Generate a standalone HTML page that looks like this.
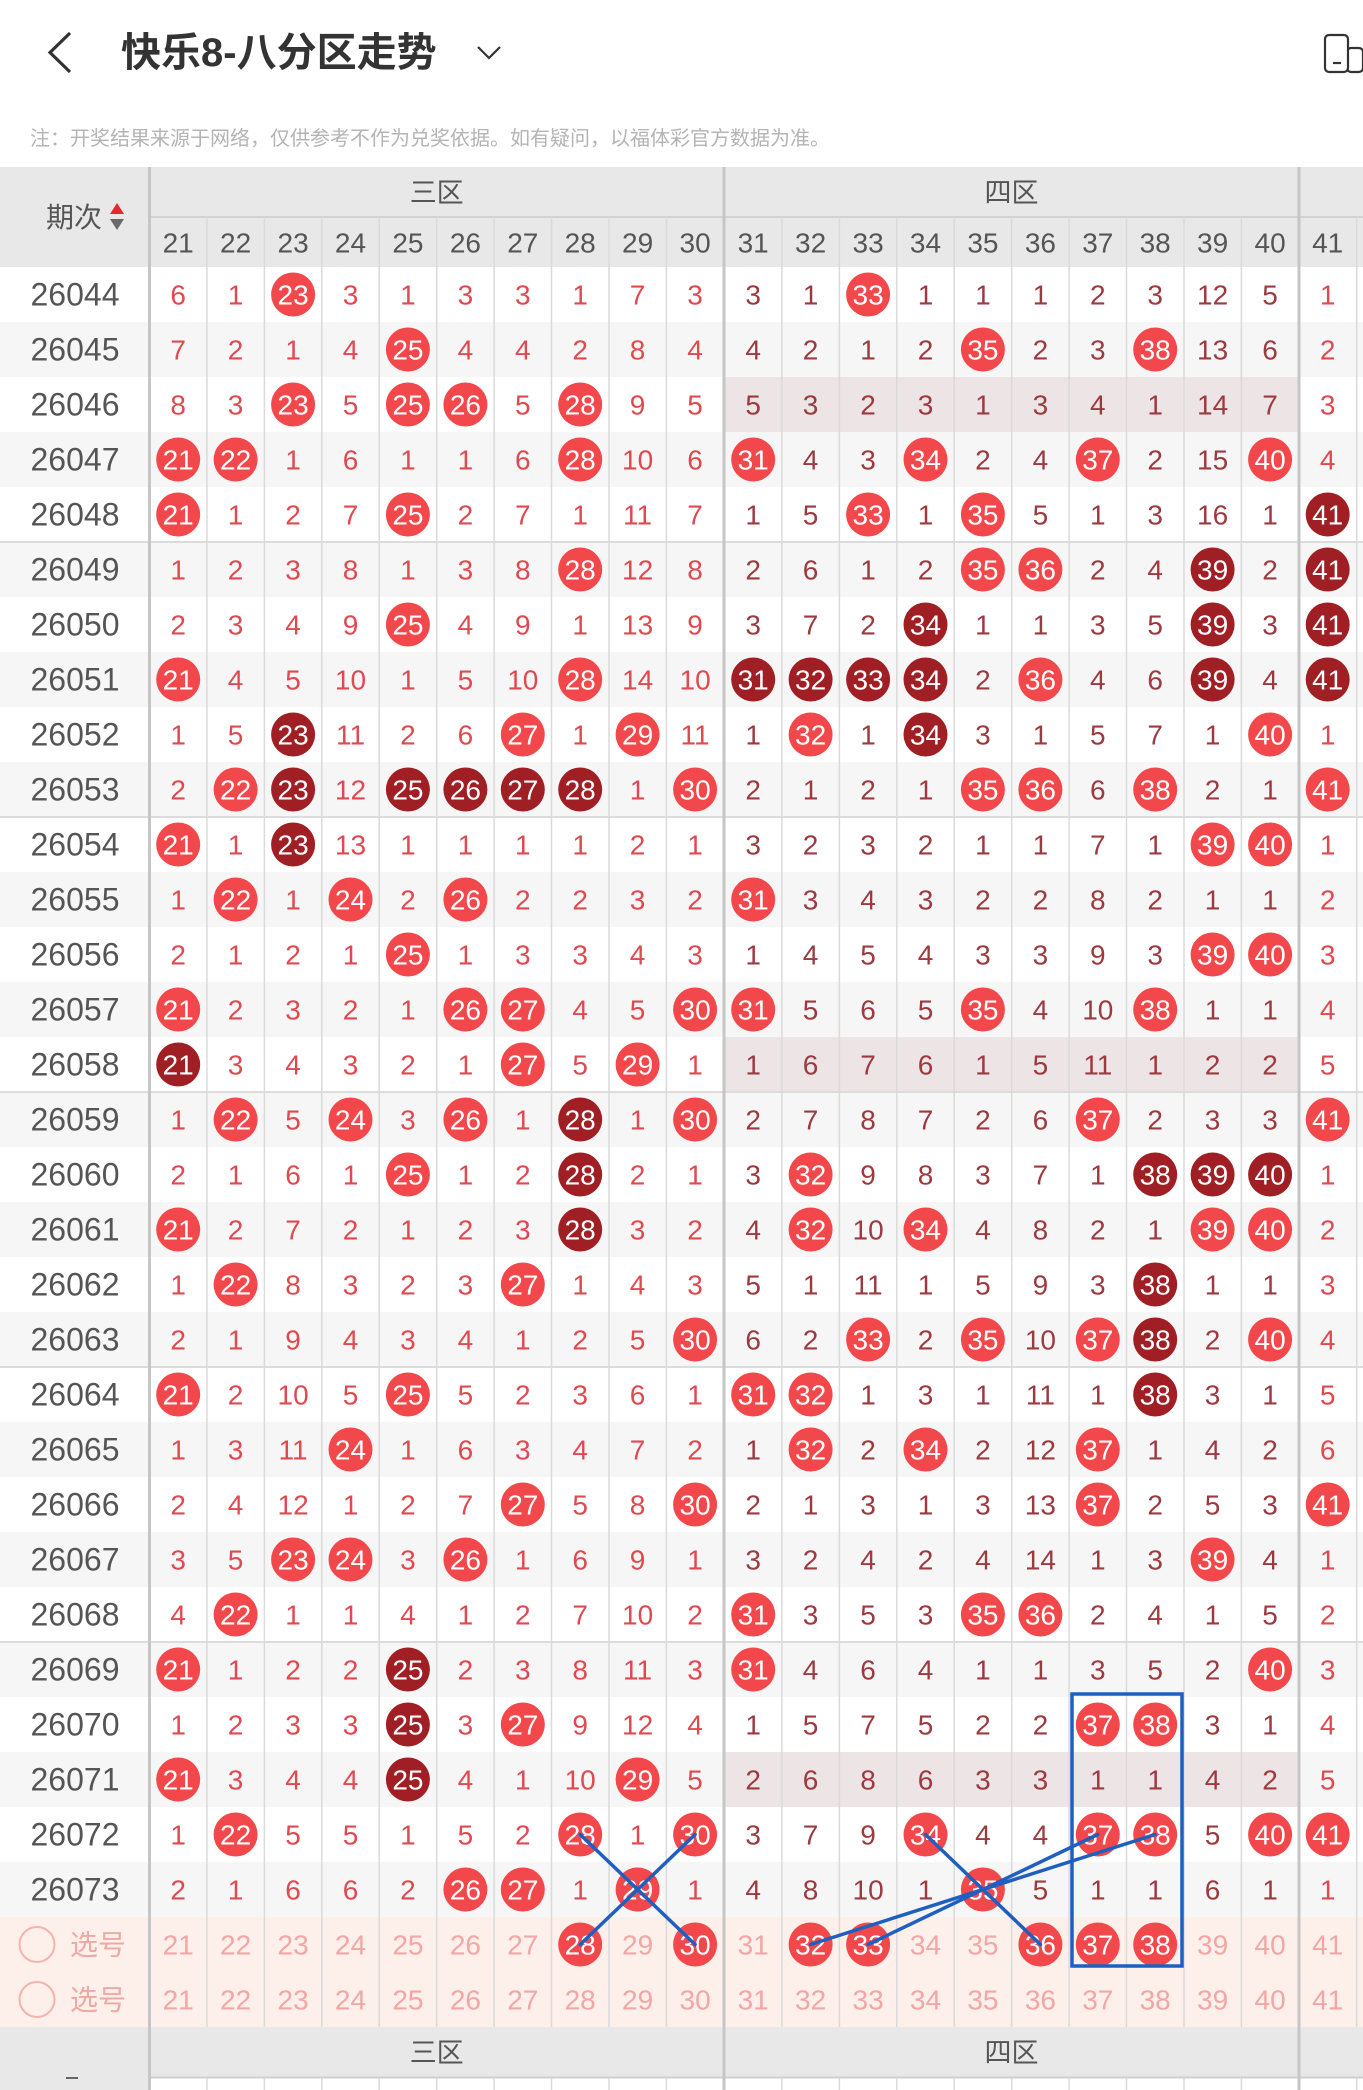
<!DOCTYPE html>
<html><head><meta charset="utf-8">
<style>
html,body{margin:0;padding:0;background:#fff;}
svg{display:block;}
text{font-family:"Liberation Sans","Noto Sans CJK SC",sans-serif;}
.t text{font-size:28px;text-anchor:middle;}
.t text.q{font-size:32px;fill:#555;}
.a{fill:#df4a50;} .b{fill:#9c3a40;} .w{fill:#fff;} .p{fill:#f3a6a6;} .h{fill:#555;}
.r{fill:#f2484b;} .d{fill:#a01f25;}
</style></head>
<body>
<svg xmlns="http://www.w3.org/2000/svg" width="1363" height="2090" viewBox="0 0 1363 2090">
<rect x="0" y="0" width="1363" height="2090" fill="#fff"/>
<polyline points="70,33 50,52.5 70,72" fill="none" stroke="#333" stroke-width="3.2" stroke-linejoin="miter"/>
<text x="121" y="66" style="font-size:40px;font-weight:bold;fill:#333;">快乐8-八分区走势</text>
<polyline points="478,47 489,58 500,47" fill="none" stroke="#333" stroke-width="2.2"/>
<rect x="1347" y="48" width="16" height="24" rx="4" fill="#fff" stroke="#333" stroke-width="2.2"/>
<rect x="1325" y="35" width="23" height="37" rx="4" fill="#fff" stroke="#333" stroke-width="2.2"/>
<line x1="1333" y1="63" x2="1341" y2="63" stroke="#333" stroke-width="2.2"/>
<text x="30" y="145" style="font-size:20px;fill:#b4b4b4;">注：开奖结果来源于网络，仅供参考不作为兑奖依据。如有疑问，以福体彩官方数据为准。</text>

<rect x="0" y="167" width="1363" height="100" fill="#e8e8e8"/>
<g fill="#f6f6f6">
<rect x="0" y="322" width="1363" height="55"/><rect x="0" y="432" width="1363" height="55"/>
<rect x="0" y="542" width="1363" height="55"/><rect x="0" y="652" width="1363" height="55"/>
<rect x="0" y="762" width="1363" height="55"/><rect x="0" y="872" width="1363" height="55"/>
<rect x="0" y="982" width="1363" height="55"/><rect x="0" y="1092" width="1363" height="55"/>
<rect x="0" y="1202" width="1363" height="55"/><rect x="0" y="1312" width="1363" height="55"/>
<rect x="0" y="1422" width="1363" height="55"/><rect x="0" y="1532" width="1363" height="55"/>
<rect x="0" y="1642" width="1363" height="55"/><rect x="0" y="1752" width="1363" height="55"/>
<rect x="0" y="1862" width="1363" height="55"/>
</g>
<g fill="#ede4e5">
<rect x="725" y="377" width="573" height="55"/>
<rect x="725" y="1037" width="573" height="55"/>
<rect x="725" y="1752" width="573" height="55"/>
</g>
<rect x="0" y="1917" width="1363" height="110" fill="#fdefea"/>
<rect x="0" y="2027" width="1363" height="63" fill="#e8e8e8"/>
<rect x="151" y="2078" width="1212" height="12" fill="#fff"/>
<line x1="151" y1="2077.5" x2="1363" y2="2077.5" stroke="#cfcfcf" stroke-width="2"/>
<rect x="66" y="2077" width="12" height="2" fill="#666"/>

<g stroke="#dcdcdc" stroke-width="2">
<line x1="151" y1="217" x2="1363" y2="217" stroke="#d2d2d2"/>
<line x1="0" y1="542" x2="1363" y2="542"/>
<line x1="0" y1="817" x2="1363" y2="817"/>
<line x1="0" y1="1092" x2="1363" y2="1092"/>
<line x1="0" y1="1367" x2="1363" y2="1367"/>
<line x1="0" y1="1642" x2="1363" y2="1642"/>
</g>
<g stroke="#dadada" stroke-width="1.5">
<path d="M206.9 217V2027M264.4 217V2027M321.8 217V2027M379.2 217V2027M436.7 217V2027M494.1 217V2027M551.5 217V2027M609 217V2027M666.4 217V2027M781.9 217V2027M839.4 217V2027M896.8 217V2027M954.2 217V2027M1011.7 217V2027M1069.1 217V2027M1126.5 217V2027M1184 217V2027M1241.4 217V2027M1356.7 217V2027"/>
<path d="M206.9 2078V2090M264.4 2078V2090M321.8 2078V2090M379.2 2078V2090M436.7 2078V2090M494.1 2078V2090M551.5 2078V2090M609 2078V2090M666.4 2078V2090M781.9 2078V2090M839.4 2078V2090M896.8 2078V2090M954.2 2078V2090M1011.7 2078V2090M1069.1 2078V2090M1126.5 2078V2090M1184 2078V2090M1241.4 2078V2090M1356.7 2078V2090"/>
</g>
<g fill="#c6c6c6">
<rect x="148" y="167" width="3" height="1923"/>
<rect x="722.5" y="167" width="3" height="1923"/>
<rect x="1297.5" y="167" width="3" height="1923"/>
</g>

<text x="46" y="227" style="font-size:28px;fill:#555;">期次</text>
<polygon points="110,214 124,214 117,203" fill="#e8262b"/>
<polygon points="110,219 124,219 117,230" fill="#6a6a6a"/>
<g style="font-size:27px;fill:#555;text-anchor:middle;">
<text x="436.7" y="202">三区</text><text x="1011.5" y="202">四区</text>
<text x="436.7" y="2062">三区</text><text x="1011.5" y="2062">四区</text>
</g>
<g class="t" transform="translate(0,252.5)"><g class="h">
<text x="178.2">21</text><text x="235.6">22</text><text x="293.1">23</text><text x="350.5">24</text><text x="407.9">25</text><text x="465.4">26</text><text x="522.8">27</text><text x="580.2">28</text><text x="637.6">29</text><text x="695.1">30</text>
<text x="753.2">31</text><text x="810.6">32</text><text x="868.1">33</text><text x="925.5">34</text><text x="982.9">35</text><text x="1040.4">36</text><text x="1097.8">37</text><text x="1155.2">38</text><text x="1212.6">39</text><text x="1270.1">40</text><text x="1327.7">41</text>
</g></g>

<g class="t">
<g transform="translate(0,304.5)"><text class="q" x="75" y="1">26044</text>
<circle class="r" cx="293.1" cy="-10" r="22"/><circle class="r" cx="868.1" cy="-10" r="22"/>
<g class="w"><text x="293.1">23</text><text x="868.1">33</text></g>
<g class="a"><text x="178.2">6</text><text x="235.6">1</text><text x="350.5">3</text><text x="407.9">1</text><text x="465.4">3</text><text x="522.8">3</text><text x="580.2">1</text><text x="637.6">7</text><text x="695.1">3</text><text x="1327.7">1</text></g>
<g class="b"><text x="753.2">3</text><text x="810.6">1</text><text x="925.5">1</text><text x="982.9">1</text><text x="1040.4">1</text><text x="1097.8">2</text><text x="1155.2">3</text><text x="1212.6">12</text><text x="1270.1">5</text></g></g>
<g transform="translate(0,359.5)"><text class="q" x="75" y="1">26045</text>
<circle class="r" cx="407.9" cy="-10" r="22"/><circle class="r" cx="982.9" cy="-10" r="22"/><circle class="r" cx="1155.2" cy="-10" r="22"/>
<g class="w"><text x="407.9">25</text><text x="982.9">35</text><text x="1155.2">38</text></g>
<g class="a"><text x="178.2">7</text><text x="235.6">2</text><text x="293.1">1</text><text x="350.5">4</text><text x="465.4">4</text><text x="522.8">4</text><text x="580.2">2</text><text x="637.6">8</text><text x="695.1">4</text><text x="1327.7">2</text></g>
<g class="b"><text x="753.2">4</text><text x="810.6">2</text><text x="868.1">1</text><text x="925.5">2</text><text x="1040.4">2</text><text x="1097.8">3</text><text x="1212.6">13</text><text x="1270.1">6</text></g></g>
<g transform="translate(0,414.5)"><text class="q" x="75" y="1">26046</text>
<circle class="r" cx="293.1" cy="-10" r="22"/><circle class="r" cx="407.9" cy="-10" r="22"/><circle class="r" cx="465.4" cy="-10" r="22"/><circle class="r" cx="580.2" cy="-10" r="22"/>
<g class="w"><text x="293.1">23</text><text x="407.9">25</text><text x="465.4">26</text><text x="580.2">28</text></g>
<g class="a"><text x="178.2">8</text><text x="235.6">3</text><text x="350.5">5</text><text x="522.8">5</text><text x="637.6">9</text><text x="695.1">5</text><text x="1327.7">3</text></g>
<g class="b"><text x="753.2">5</text><text x="810.6">3</text><text x="868.1">2</text><text x="925.5">3</text><text x="982.9">1</text><text x="1040.4">3</text><text x="1097.8">4</text><text x="1155.2">1</text><text x="1212.6">14</text><text x="1270.1">7</text></g></g>
<g transform="translate(0,469.5)"><text class="q" x="75" y="1">26047</text>
<circle class="r" cx="178.2" cy="-10" r="22"/><circle class="r" cx="235.6" cy="-10" r="22"/><circle class="r" cx="580.2" cy="-10" r="22"/><circle class="r" cx="753.2" cy="-10" r="22"/><circle class="r" cx="925.5" cy="-10" r="22"/><circle class="r" cx="1097.8" cy="-10" r="22"/><circle class="r" cx="1270.1" cy="-10" r="22"/>
<g class="w"><text x="178.2">21</text><text x="235.6">22</text><text x="580.2">28</text><text x="753.2">31</text><text x="925.5">34</text><text x="1097.8">37</text><text x="1270.1">40</text></g>
<g class="a"><text x="293.1">1</text><text x="350.5">6</text><text x="407.9">1</text><text x="465.4">1</text><text x="522.8">6</text><text x="637.6">10</text><text x="695.1">6</text><text x="1327.7">4</text></g>
<g class="b"><text x="810.6">4</text><text x="868.1">3</text><text x="982.9">2</text><text x="1040.4">4</text><text x="1155.2">2</text><text x="1212.6">15</text></g></g>
<g transform="translate(0,524.5)"><text class="q" x="75" y="1">26048</text>
<circle class="r" cx="178.2" cy="-10" r="22"/><circle class="r" cx="407.9" cy="-10" r="22"/><circle class="r" cx="868.1" cy="-10" r="22"/><circle class="r" cx="982.9" cy="-10" r="22"/><circle class="d" cx="1327.7" cy="-10" r="22"/>
<g class="w"><text x="178.2">21</text><text x="407.9">25</text><text x="868.1">33</text><text x="982.9">35</text><text x="1327.7">41</text></g>
<g class="a"><text x="235.6">1</text><text x="293.1">2</text><text x="350.5">7</text><text x="465.4">2</text><text x="522.8">7</text><text x="580.2">1</text><text x="637.6">11</text><text x="695.1">7</text></g>
<g class="b"><text x="753.2">1</text><text x="810.6">5</text><text x="925.5">1</text><text x="1040.4">5</text><text x="1097.8">1</text><text x="1155.2">3</text><text x="1212.6">16</text><text x="1270.1">1</text></g></g>
<g transform="translate(0,579.5)"><text class="q" x="75" y="1">26049</text>
<circle class="r" cx="580.2" cy="-10" r="22"/><circle class="r" cx="982.9" cy="-10" r="22"/><circle class="r" cx="1040.4" cy="-10" r="22"/><circle class="d" cx="1212.6" cy="-10" r="22"/><circle class="d" cx="1327.7" cy="-10" r="22"/>
<g class="w"><text x="580.2">28</text><text x="982.9">35</text><text x="1040.4">36</text><text x="1212.6">39</text><text x="1327.7">41</text></g>
<g class="a"><text x="178.2">1</text><text x="235.6">2</text><text x="293.1">3</text><text x="350.5">8</text><text x="407.9">1</text><text x="465.4">3</text><text x="522.8">8</text><text x="637.6">12</text><text x="695.1">8</text></g>
<g class="b"><text x="753.2">2</text><text x="810.6">6</text><text x="868.1">1</text><text x="925.5">2</text><text x="1097.8">2</text><text x="1155.2">4</text><text x="1270.1">2</text></g></g>
<g transform="translate(0,634.5)"><text class="q" x="75" y="1">26050</text>
<circle class="r" cx="407.9" cy="-10" r="22"/><circle class="d" cx="925.5" cy="-10" r="22"/><circle class="d" cx="1212.6" cy="-10" r="22"/><circle class="d" cx="1327.7" cy="-10" r="22"/>
<g class="w"><text x="407.9">25</text><text x="925.5">34</text><text x="1212.6">39</text><text x="1327.7">41</text></g>
<g class="a"><text x="178.2">2</text><text x="235.6">3</text><text x="293.1">4</text><text x="350.5">9</text><text x="465.4">4</text><text x="522.8">9</text><text x="580.2">1</text><text x="637.6">13</text><text x="695.1">9</text></g>
<g class="b"><text x="753.2">3</text><text x="810.6">7</text><text x="868.1">2</text><text x="982.9">1</text><text x="1040.4">1</text><text x="1097.8">3</text><text x="1155.2">5</text><text x="1270.1">3</text></g></g>
<g transform="translate(0,689.5)"><text class="q" x="75" y="1">26051</text>
<circle class="r" cx="178.2" cy="-10" r="22"/><circle class="r" cx="580.2" cy="-10" r="22"/><circle class="d" cx="753.2" cy="-10" r="22"/><circle class="d" cx="810.6" cy="-10" r="22"/><circle class="d" cx="868.1" cy="-10" r="22"/><circle class="d" cx="925.5" cy="-10" r="22"/><circle class="r" cx="1040.4" cy="-10" r="22"/><circle class="d" cx="1212.6" cy="-10" r="22"/><circle class="d" cx="1327.7" cy="-10" r="22"/>
<g class="w"><text x="178.2">21</text><text x="580.2">28</text><text x="753.2">31</text><text x="810.6">32</text><text x="868.1">33</text><text x="925.5">34</text><text x="1040.4">36</text><text x="1212.6">39</text><text x="1327.7">41</text></g>
<g class="a"><text x="235.6">4</text><text x="293.1">5</text><text x="350.5">10</text><text x="407.9">1</text><text x="465.4">5</text><text x="522.8">10</text><text x="637.6">14</text><text x="695.1">10</text></g>
<g class="b"><text x="982.9">2</text><text x="1097.8">4</text><text x="1155.2">6</text><text x="1270.1">4</text></g></g>
<g transform="translate(0,744.5)"><text class="q" x="75" y="1">26052</text>
<circle class="d" cx="293.1" cy="-10" r="22"/><circle class="r" cx="522.8" cy="-10" r="22"/><circle class="r" cx="637.6" cy="-10" r="22"/><circle class="r" cx="810.6" cy="-10" r="22"/><circle class="d" cx="925.5" cy="-10" r="22"/><circle class="r" cx="1270.1" cy="-10" r="22"/>
<g class="w"><text x="293.1">23</text><text x="522.8">27</text><text x="637.6">29</text><text x="810.6">32</text><text x="925.5">34</text><text x="1270.1">40</text></g>
<g class="a"><text x="178.2">1</text><text x="235.6">5</text><text x="350.5">11</text><text x="407.9">2</text><text x="465.4">6</text><text x="580.2">1</text><text x="695.1">11</text><text x="1327.7">1</text></g>
<g class="b"><text x="753.2">1</text><text x="868.1">1</text><text x="982.9">3</text><text x="1040.4">1</text><text x="1097.8">5</text><text x="1155.2">7</text><text x="1212.6">1</text></g></g>
<g transform="translate(0,799.5)"><text class="q" x="75" y="1">26053</text>
<circle class="r" cx="235.6" cy="-10" r="22"/><circle class="d" cx="293.1" cy="-10" r="22"/><circle class="d" cx="407.9" cy="-10" r="22"/><circle class="d" cx="465.4" cy="-10" r="22"/><circle class="d" cx="522.8" cy="-10" r="22"/><circle class="d" cx="580.2" cy="-10" r="22"/><circle class="r" cx="695.1" cy="-10" r="22"/><circle class="r" cx="982.9" cy="-10" r="22"/><circle class="r" cx="1040.4" cy="-10" r="22"/><circle class="r" cx="1155.2" cy="-10" r="22"/><circle class="r" cx="1327.7" cy="-10" r="22"/>
<g class="w"><text x="235.6">22</text><text x="293.1">23</text><text x="407.9">25</text><text x="465.4">26</text><text x="522.8">27</text><text x="580.2">28</text><text x="695.1">30</text><text x="982.9">35</text><text x="1040.4">36</text><text x="1155.2">38</text><text x="1327.7">41</text></g>
<g class="a"><text x="178.2">2</text><text x="350.5">12</text><text x="637.6">1</text></g>
<g class="b"><text x="753.2">2</text><text x="810.6">1</text><text x="868.1">2</text><text x="925.5">1</text><text x="1097.8">6</text><text x="1212.6">2</text><text x="1270.1">1</text></g></g>
<g transform="translate(0,854.5)"><text class="q" x="75" y="1">26054</text>
<circle class="r" cx="178.2" cy="-10" r="22"/><circle class="d" cx="293.1" cy="-10" r="22"/><circle class="r" cx="1212.6" cy="-10" r="22"/><circle class="r" cx="1270.1" cy="-10" r="22"/>
<g class="w"><text x="178.2">21</text><text x="293.1">23</text><text x="1212.6">39</text><text x="1270.1">40</text></g>
<g class="a"><text x="235.6">1</text><text x="350.5">13</text><text x="407.9">1</text><text x="465.4">1</text><text x="522.8">1</text><text x="580.2">1</text><text x="637.6">2</text><text x="695.1">1</text><text x="1327.7">1</text></g>
<g class="b"><text x="753.2">3</text><text x="810.6">2</text><text x="868.1">3</text><text x="925.5">2</text><text x="982.9">1</text><text x="1040.4">1</text><text x="1097.8">7</text><text x="1155.2">1</text></g></g>
<g transform="translate(0,909.5)"><text class="q" x="75" y="1">26055</text>
<circle class="r" cx="235.6" cy="-10" r="22"/><circle class="r" cx="350.5" cy="-10" r="22"/><circle class="r" cx="465.4" cy="-10" r="22"/><circle class="r" cx="753.2" cy="-10" r="22"/>
<g class="w"><text x="235.6">22</text><text x="350.5">24</text><text x="465.4">26</text><text x="753.2">31</text></g>
<g class="a"><text x="178.2">1</text><text x="293.1">1</text><text x="407.9">2</text><text x="522.8">2</text><text x="580.2">2</text><text x="637.6">3</text><text x="695.1">2</text><text x="1327.7">2</text></g>
<g class="b"><text x="810.6">3</text><text x="868.1">4</text><text x="925.5">3</text><text x="982.9">2</text><text x="1040.4">2</text><text x="1097.8">8</text><text x="1155.2">2</text><text x="1212.6">1</text><text x="1270.1">1</text></g></g>
<g transform="translate(0,964.5)"><text class="q" x="75" y="1">26056</text>
<circle class="r" cx="407.9" cy="-10" r="22"/><circle class="r" cx="1212.6" cy="-10" r="22"/><circle class="r" cx="1270.1" cy="-10" r="22"/>
<g class="w"><text x="407.9">25</text><text x="1212.6">39</text><text x="1270.1">40</text></g>
<g class="a"><text x="178.2">2</text><text x="235.6">1</text><text x="293.1">2</text><text x="350.5">1</text><text x="465.4">1</text><text x="522.8">3</text><text x="580.2">3</text><text x="637.6">4</text><text x="695.1">3</text><text x="1327.7">3</text></g>
<g class="b"><text x="753.2">1</text><text x="810.6">4</text><text x="868.1">5</text><text x="925.5">4</text><text x="982.9">3</text><text x="1040.4">3</text><text x="1097.8">9</text><text x="1155.2">3</text></g></g>
<g transform="translate(0,1019.5)"><text class="q" x="75" y="1">26057</text>
<circle class="r" cx="178.2" cy="-10" r="22"/><circle class="r" cx="465.4" cy="-10" r="22"/><circle class="r" cx="522.8" cy="-10" r="22"/><circle class="r" cx="695.1" cy="-10" r="22"/><circle class="r" cx="753.2" cy="-10" r="22"/><circle class="r" cx="982.9" cy="-10" r="22"/><circle class="r" cx="1155.2" cy="-10" r="22"/>
<g class="w"><text x="178.2">21</text><text x="465.4">26</text><text x="522.8">27</text><text x="695.1">30</text><text x="753.2">31</text><text x="982.9">35</text><text x="1155.2">38</text></g>
<g class="a"><text x="235.6">2</text><text x="293.1">3</text><text x="350.5">2</text><text x="407.9">1</text><text x="580.2">4</text><text x="637.6">5</text><text x="1327.7">4</text></g>
<g class="b"><text x="810.6">5</text><text x="868.1">6</text><text x="925.5">5</text><text x="1040.4">4</text><text x="1097.8">10</text><text x="1212.6">1</text><text x="1270.1">1</text></g></g>
<g transform="translate(0,1074.5)"><text class="q" x="75" y="1">26058</text>
<circle class="d" cx="178.2" cy="-10" r="22"/><circle class="r" cx="522.8" cy="-10" r="22"/><circle class="r" cx="637.6" cy="-10" r="22"/>
<g class="w"><text x="178.2">21</text><text x="522.8">27</text><text x="637.6">29</text></g>
<g class="a"><text x="235.6">3</text><text x="293.1">4</text><text x="350.5">3</text><text x="407.9">2</text><text x="465.4">1</text><text x="580.2">5</text><text x="695.1">1</text><text x="1327.7">5</text></g>
<g class="b"><text x="753.2">1</text><text x="810.6">6</text><text x="868.1">7</text><text x="925.5">6</text><text x="982.9">1</text><text x="1040.4">5</text><text x="1097.8">11</text><text x="1155.2">1</text><text x="1212.6">2</text><text x="1270.1">2</text></g></g>
<g transform="translate(0,1129.5)"><text class="q" x="75" y="1">26059</text>
<circle class="r" cx="235.6" cy="-10" r="22"/><circle class="r" cx="350.5" cy="-10" r="22"/><circle class="r" cx="465.4" cy="-10" r="22"/><circle class="d" cx="580.2" cy="-10" r="22"/><circle class="r" cx="695.1" cy="-10" r="22"/><circle class="r" cx="1097.8" cy="-10" r="22"/><circle class="r" cx="1327.7" cy="-10" r="22"/>
<g class="w"><text x="235.6">22</text><text x="350.5">24</text><text x="465.4">26</text><text x="580.2">28</text><text x="695.1">30</text><text x="1097.8">37</text><text x="1327.7">41</text></g>
<g class="a"><text x="178.2">1</text><text x="293.1">5</text><text x="407.9">3</text><text x="522.8">1</text><text x="637.6">1</text></g>
<g class="b"><text x="753.2">2</text><text x="810.6">7</text><text x="868.1">8</text><text x="925.5">7</text><text x="982.9">2</text><text x="1040.4">6</text><text x="1155.2">2</text><text x="1212.6">3</text><text x="1270.1">3</text></g></g>
<g transform="translate(0,1184.5)"><text class="q" x="75" y="1">26060</text>
<circle class="r" cx="407.9" cy="-10" r="22"/><circle class="d" cx="580.2" cy="-10" r="22"/><circle class="r" cx="810.6" cy="-10" r="22"/><circle class="d" cx="1155.2" cy="-10" r="22"/><circle class="d" cx="1212.6" cy="-10" r="22"/><circle class="d" cx="1270.1" cy="-10" r="22"/>
<g class="w"><text x="407.9">25</text><text x="580.2">28</text><text x="810.6">32</text><text x="1155.2">38</text><text x="1212.6">39</text><text x="1270.1">40</text></g>
<g class="a"><text x="178.2">2</text><text x="235.6">1</text><text x="293.1">6</text><text x="350.5">1</text><text x="465.4">1</text><text x="522.8">2</text><text x="637.6">2</text><text x="695.1">1</text><text x="1327.7">1</text></g>
<g class="b"><text x="753.2">3</text><text x="868.1">9</text><text x="925.5">8</text><text x="982.9">3</text><text x="1040.4">7</text><text x="1097.8">1</text></g></g>
<g transform="translate(0,1239.5)"><text class="q" x="75" y="1">26061</text>
<circle class="r" cx="178.2" cy="-10" r="22"/><circle class="d" cx="580.2" cy="-10" r="22"/><circle class="r" cx="810.6" cy="-10" r="22"/><circle class="r" cx="925.5" cy="-10" r="22"/><circle class="r" cx="1212.6" cy="-10" r="22"/><circle class="r" cx="1270.1" cy="-10" r="22"/>
<g class="w"><text x="178.2">21</text><text x="580.2">28</text><text x="810.6">32</text><text x="925.5">34</text><text x="1212.6">39</text><text x="1270.1">40</text></g>
<g class="a"><text x="235.6">2</text><text x="293.1">7</text><text x="350.5">2</text><text x="407.9">1</text><text x="465.4">2</text><text x="522.8">3</text><text x="637.6">3</text><text x="695.1">2</text><text x="1327.7">2</text></g>
<g class="b"><text x="753.2">4</text><text x="868.1">10</text><text x="982.9">4</text><text x="1040.4">8</text><text x="1097.8">2</text><text x="1155.2">1</text></g></g>
<g transform="translate(0,1294.5)"><text class="q" x="75" y="1">26062</text>
<circle class="r" cx="235.6" cy="-10" r="22"/><circle class="r" cx="522.8" cy="-10" r="22"/><circle class="d" cx="1155.2" cy="-10" r="22"/>
<g class="w"><text x="235.6">22</text><text x="522.8">27</text><text x="1155.2">38</text></g>
<g class="a"><text x="178.2">1</text><text x="293.1">8</text><text x="350.5">3</text><text x="407.9">2</text><text x="465.4">3</text><text x="580.2">1</text><text x="637.6">4</text><text x="695.1">3</text><text x="1327.7">3</text></g>
<g class="b"><text x="753.2">5</text><text x="810.6">1</text><text x="868.1">11</text><text x="925.5">1</text><text x="982.9">5</text><text x="1040.4">9</text><text x="1097.8">3</text><text x="1212.6">1</text><text x="1270.1">1</text></g></g>
<g transform="translate(0,1349.5)"><text class="q" x="75" y="1">26063</text>
<circle class="r" cx="695.1" cy="-10" r="22"/><circle class="r" cx="868.1" cy="-10" r="22"/><circle class="r" cx="982.9" cy="-10" r="22"/><circle class="r" cx="1097.8" cy="-10" r="22"/><circle class="d" cx="1155.2" cy="-10" r="22"/><circle class="r" cx="1270.1" cy="-10" r="22"/>
<g class="w"><text x="695.1">30</text><text x="868.1">33</text><text x="982.9">35</text><text x="1097.8">37</text><text x="1155.2">38</text><text x="1270.1">40</text></g>
<g class="a"><text x="178.2">2</text><text x="235.6">1</text><text x="293.1">9</text><text x="350.5">4</text><text x="407.9">3</text><text x="465.4">4</text><text x="522.8">1</text><text x="580.2">2</text><text x="637.6">5</text><text x="1327.7">4</text></g>
<g class="b"><text x="753.2">6</text><text x="810.6">2</text><text x="925.5">2</text><text x="1040.4">10</text><text x="1212.6">2</text></g></g>
<g transform="translate(0,1404.5)"><text class="q" x="75" y="1">26064</text>
<circle class="r" cx="178.2" cy="-10" r="22"/><circle class="r" cx="407.9" cy="-10" r="22"/><circle class="r" cx="753.2" cy="-10" r="22"/><circle class="r" cx="810.6" cy="-10" r="22"/><circle class="d" cx="1155.2" cy="-10" r="22"/>
<g class="w"><text x="178.2">21</text><text x="407.9">25</text><text x="753.2">31</text><text x="810.6">32</text><text x="1155.2">38</text></g>
<g class="a"><text x="235.6">2</text><text x="293.1">10</text><text x="350.5">5</text><text x="465.4">5</text><text x="522.8">2</text><text x="580.2">3</text><text x="637.6">6</text><text x="695.1">1</text><text x="1327.7">5</text></g>
<g class="b"><text x="868.1">1</text><text x="925.5">3</text><text x="982.9">1</text><text x="1040.4">11</text><text x="1097.8">1</text><text x="1212.6">3</text><text x="1270.1">1</text></g></g>
<g transform="translate(0,1459.5)"><text class="q" x="75" y="1">26065</text>
<circle class="r" cx="350.5" cy="-10" r="22"/><circle class="r" cx="810.6" cy="-10" r="22"/><circle class="r" cx="925.5" cy="-10" r="22"/><circle class="r" cx="1097.8" cy="-10" r="22"/>
<g class="w"><text x="350.5">24</text><text x="810.6">32</text><text x="925.5">34</text><text x="1097.8">37</text></g>
<g class="a"><text x="178.2">1</text><text x="235.6">3</text><text x="293.1">11</text><text x="407.9">1</text><text x="465.4">6</text><text x="522.8">3</text><text x="580.2">4</text><text x="637.6">7</text><text x="695.1">2</text><text x="1327.7">6</text></g>
<g class="b"><text x="753.2">1</text><text x="868.1">2</text><text x="982.9">2</text><text x="1040.4">12</text><text x="1155.2">1</text><text x="1212.6">4</text><text x="1270.1">2</text></g></g>
<g transform="translate(0,1514.5)"><text class="q" x="75" y="1">26066</text>
<circle class="r" cx="522.8" cy="-10" r="22"/><circle class="r" cx="695.1" cy="-10" r="22"/><circle class="r" cx="1097.8" cy="-10" r="22"/><circle class="r" cx="1327.7" cy="-10" r="22"/>
<g class="w"><text x="522.8">27</text><text x="695.1">30</text><text x="1097.8">37</text><text x="1327.7">41</text></g>
<g class="a"><text x="178.2">2</text><text x="235.6">4</text><text x="293.1">12</text><text x="350.5">1</text><text x="407.9">2</text><text x="465.4">7</text><text x="580.2">5</text><text x="637.6">8</text></g>
<g class="b"><text x="753.2">2</text><text x="810.6">1</text><text x="868.1">3</text><text x="925.5">1</text><text x="982.9">3</text><text x="1040.4">13</text><text x="1155.2">2</text><text x="1212.6">5</text><text x="1270.1">3</text></g></g>
<g transform="translate(0,1569.5)"><text class="q" x="75" y="1">26067</text>
<circle class="r" cx="293.1" cy="-10" r="22"/><circle class="r" cx="350.5" cy="-10" r="22"/><circle class="r" cx="465.4" cy="-10" r="22"/><circle class="r" cx="1212.6" cy="-10" r="22"/>
<g class="w"><text x="293.1">23</text><text x="350.5">24</text><text x="465.4">26</text><text x="1212.6">39</text></g>
<g class="a"><text x="178.2">3</text><text x="235.6">5</text><text x="407.9">3</text><text x="522.8">1</text><text x="580.2">6</text><text x="637.6">9</text><text x="695.1">1</text><text x="1327.7">1</text></g>
<g class="b"><text x="753.2">3</text><text x="810.6">2</text><text x="868.1">4</text><text x="925.5">2</text><text x="982.9">4</text><text x="1040.4">14</text><text x="1097.8">1</text><text x="1155.2">3</text><text x="1270.1">4</text></g></g>
<g transform="translate(0,1624.5)"><text class="q" x="75" y="1">26068</text>
<circle class="r" cx="235.6" cy="-10" r="22"/><circle class="r" cx="753.2" cy="-10" r="22"/><circle class="r" cx="982.9" cy="-10" r="22"/><circle class="r" cx="1040.4" cy="-10" r="22"/>
<g class="w"><text x="235.6">22</text><text x="753.2">31</text><text x="982.9">35</text><text x="1040.4">36</text></g>
<g class="a"><text x="178.2">4</text><text x="293.1">1</text><text x="350.5">1</text><text x="407.9">4</text><text x="465.4">1</text><text x="522.8">2</text><text x="580.2">7</text><text x="637.6">10</text><text x="695.1">2</text><text x="1327.7">2</text></g>
<g class="b"><text x="810.6">3</text><text x="868.1">5</text><text x="925.5">3</text><text x="1097.8">2</text><text x="1155.2">4</text><text x="1212.6">1</text><text x="1270.1">5</text></g></g>
<g transform="translate(0,1679.5)"><text class="q" x="75" y="1">26069</text>
<circle class="r" cx="178.2" cy="-10" r="22"/><circle class="d" cx="407.9" cy="-10" r="22"/><circle class="r" cx="753.2" cy="-10" r="22"/><circle class="r" cx="1270.1" cy="-10" r="22"/>
<g class="w"><text x="178.2">21</text><text x="407.9">25</text><text x="753.2">31</text><text x="1270.1">40</text></g>
<g class="a"><text x="235.6">1</text><text x="293.1">2</text><text x="350.5">2</text><text x="465.4">2</text><text x="522.8">3</text><text x="580.2">8</text><text x="637.6">11</text><text x="695.1">3</text><text x="1327.7">3</text></g>
<g class="b"><text x="810.6">4</text><text x="868.1">6</text><text x="925.5">4</text><text x="982.9">1</text><text x="1040.4">1</text><text x="1097.8">3</text><text x="1155.2">5</text><text x="1212.6">2</text></g></g>
<g transform="translate(0,1734.5)"><text class="q" x="75" y="1">26070</text>
<circle class="d" cx="407.9" cy="-10" r="22"/><circle class="r" cx="522.8" cy="-10" r="22"/><circle class="r" cx="1097.8" cy="-10" r="22"/><circle class="r" cx="1155.2" cy="-10" r="22"/>
<g class="w"><text x="407.9">25</text><text x="522.8">27</text><text x="1097.8">37</text><text x="1155.2">38</text></g>
<g class="a"><text x="178.2">1</text><text x="235.6">2</text><text x="293.1">3</text><text x="350.5">3</text><text x="465.4">3</text><text x="580.2">9</text><text x="637.6">12</text><text x="695.1">4</text><text x="1327.7">4</text></g>
<g class="b"><text x="753.2">1</text><text x="810.6">5</text><text x="868.1">7</text><text x="925.5">5</text><text x="982.9">2</text><text x="1040.4">2</text><text x="1212.6">3</text><text x="1270.1">1</text></g></g>
<g transform="translate(0,1789.5)"><text class="q" x="75" y="1">26071</text>
<circle class="r" cx="178.2" cy="-10" r="22"/><circle class="d" cx="407.9" cy="-10" r="22"/><circle class="r" cx="637.6" cy="-10" r="22"/>
<g class="w"><text x="178.2">21</text><text x="407.9">25</text><text x="637.6">29</text></g>
<g class="a"><text x="235.6">3</text><text x="293.1">4</text><text x="350.5">4</text><text x="465.4">4</text><text x="522.8">1</text><text x="580.2">10</text><text x="695.1">5</text><text x="1327.7">5</text></g>
<g class="b"><text x="753.2">2</text><text x="810.6">6</text><text x="868.1">8</text><text x="925.5">6</text><text x="982.9">3</text><text x="1040.4">3</text><text x="1097.8">1</text><text x="1155.2">1</text><text x="1212.6">4</text><text x="1270.1">2</text></g></g>
<g transform="translate(0,1844.5)"><text class="q" x="75" y="1">26072</text>
<circle class="r" cx="235.6" cy="-10" r="22"/><circle class="r" cx="580.2" cy="-10" r="22"/><circle class="r" cx="695.1" cy="-10" r="22"/><circle class="r" cx="925.5" cy="-10" r="22"/><circle class="r" cx="1097.8" cy="-10" r="22"/><circle class="r" cx="1155.2" cy="-10" r="22"/><circle class="r" cx="1270.1" cy="-10" r="22"/><circle class="r" cx="1327.7" cy="-10" r="22"/>
<g class="w"><text x="235.6">22</text><text x="580.2">28</text><text x="695.1">30</text><text x="925.5">34</text><text x="1097.8">37</text><text x="1155.2">38</text><text x="1270.1">40</text><text x="1327.7">41</text></g>
<g class="a"><text x="178.2">1</text><text x="293.1">5</text><text x="350.5">5</text><text x="407.9">1</text><text x="465.4">5</text><text x="522.8">2</text><text x="637.6">1</text></g>
<g class="b"><text x="753.2">3</text><text x="810.6">7</text><text x="868.1">9</text><text x="982.9">4</text><text x="1040.4">4</text><text x="1212.6">5</text></g></g>
<g transform="translate(0,1899.5)"><text class="q" x="75" y="1">26073</text>
<circle class="r" cx="465.4" cy="-10" r="22"/><circle class="r" cx="522.8" cy="-10" r="22"/><circle class="r" cx="637.6" cy="-10" r="22"/><circle class="r" cx="982.9" cy="-10" r="22"/>
<g class="w"><text x="465.4">26</text><text x="522.8">27</text><text x="637.6">29</text><text x="982.9">35</text></g>
<g class="a"><text x="178.2">2</text><text x="235.6">1</text><text x="293.1">6</text><text x="350.5">6</text><text x="407.9">2</text><text x="580.2">1</text><text x="695.1">1</text><text x="1327.7">1</text></g>
<g class="b"><text x="753.2">4</text><text x="810.6">8</text><text x="868.1">10</text><text x="925.5">1</text><text x="1040.4">5</text><text x="1097.8">1</text><text x="1155.2">1</text><text x="1212.6">6</text><text x="1270.1">1</text></g></g>
<g transform="translate(0,1954.5)">
<circle cx="37" cy="-10" r="17.5" fill="none" stroke="#f3b4b0" stroke-width="2"/>
<text x="70" style="font-size:28px;fill:#f0a8a4;text-anchor:start;">选号</text>
<circle class="r" cx="580.2" cy="-10" r="22"/><circle class="r" cx="695.1" cy="-10" r="22"/><circle class="r" cx="810.6" cy="-10" r="22"/><circle class="r" cx="868.1" cy="-10" r="22"/><circle class="r" cx="1040.4" cy="-10" r="22"/><circle class="r" cx="1097.8" cy="-10" r="22"/><circle class="r" cx="1155.2" cy="-10" r="22"/>
<g class="w"><text x="580.2">28</text><text x="695.1">30</text><text x="810.6">32</text><text x="868.1">33</text><text x="1040.4">36</text><text x="1097.8">37</text><text x="1155.2">38</text></g>
<g class="p"><text x="178.2">21</text><text x="235.6">22</text><text x="293.1">23</text><text x="350.5">24</text><text x="407.9">25</text><text x="465.4">26</text><text x="522.8">27</text><text x="637.6">29</text><text x="753.2">31</text><text x="925.5">34</text><text x="982.9">35</text><text x="1212.6">39</text><text x="1270.1">40</text><text x="1327.7">41</text></g></g>
<g transform="translate(0,2009.5)">
<circle cx="37" cy="-10" r="17.5" fill="none" stroke="#f3b4b0" stroke-width="2"/>
<text x="70" style="font-size:28px;fill:#f0a8a4;text-anchor:start;">选号</text>
<g class="p"><text x="178.2">21</text><text x="235.6">22</text><text x="293.1">23</text><text x="350.5">24</text><text x="407.9">25</text><text x="465.4">26</text><text x="522.8">27</text><text x="580.2">28</text><text x="637.6">29</text><text x="695.1">30</text><text x="753.2">31</text><text x="810.6">32</text><text x="868.1">33</text><text x="925.5">34</text><text x="982.9">35</text><text x="1040.4">36</text><text x="1097.8">37</text><text x="1155.2">38</text><text x="1212.6">39</text><text x="1270.1">40</text><text x="1327.7">41</text></g></g>
</g>

<g stroke="#1f5fbf" stroke-width="3.5" fill="none" stroke-linecap="round">
<line x1="580.2" y1="1834.5" x2="695.1" y2="1944.5"/>
<line x1="695.1" y1="1834.5" x2="580.2" y2="1944.5"/>
<line x1="925.5" y1="1834.5" x2="1040.4" y2="1944.5"/>
<line x1="1097.8" y1="1834.5" x2="868.1" y2="1944.5"/>
<line x1="1155.2" y1="1834.5" x2="810.6" y2="1944.5"/>
<rect x="1072" y="1694" width="110" height="272" stroke-linecap="butt"/>
</g>
</svg>
</body></html>
